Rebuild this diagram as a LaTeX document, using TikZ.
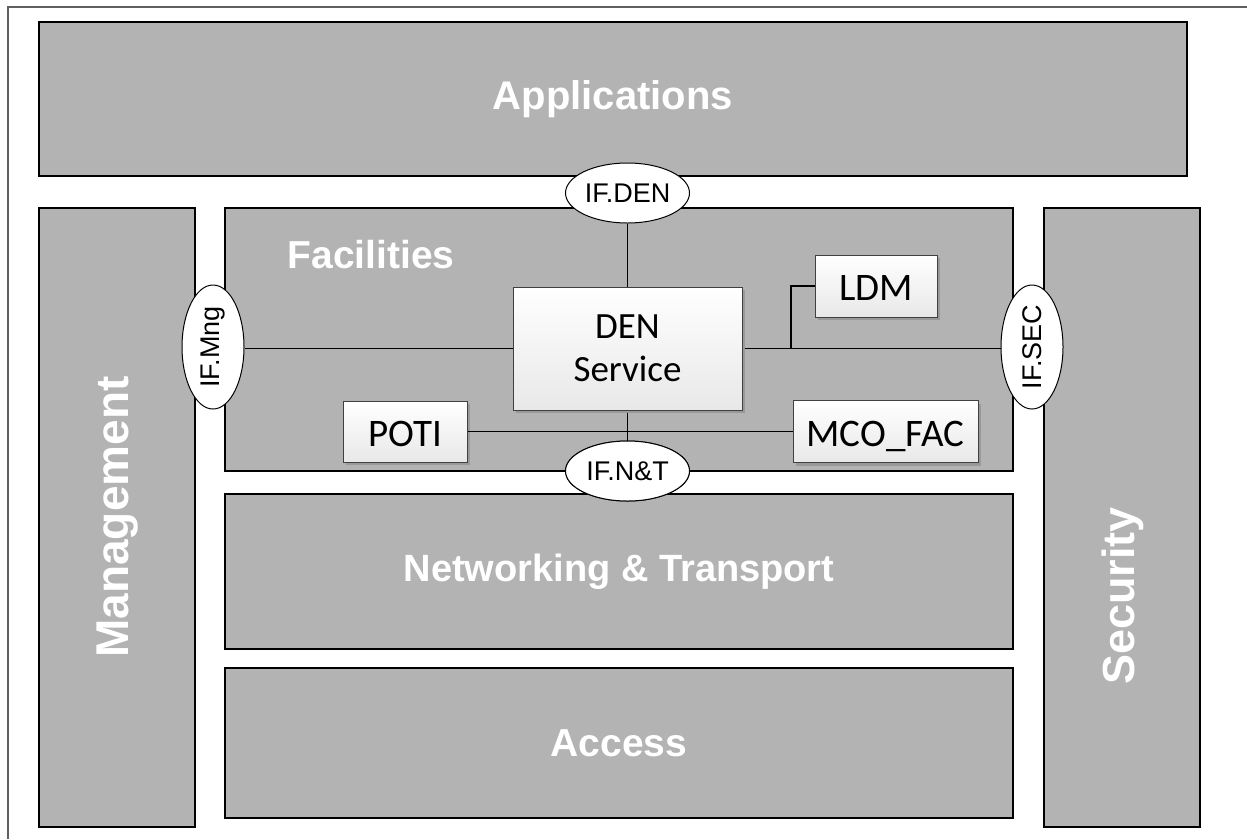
\documentclass[tikz,border=0pt]{standalone}
\usepackage{fontspec}
\setmainfont{Liberation Sans}
\newfontfamily\boxfont{Carlito}
\usetikzlibrary{shapes.geometric,shadows}
\definecolor{layergray}{HTML}{B3B3B3}
\definecolor{framegray}{HTML}{606060}
\begin{document}
\begin{tikzpicture}[x=1pt,y=-1pt,
  layer/.style={draw=black, line width=1.6pt, fill=layergray, inner sep=0pt, text=white,
    font=\fontsize{38}{44}\selectfont\bfseries},
  layerlabel/.style={text=white, font=\fontsize{38}{44}\selectfont\bfseries, inner sep=0pt},
  comp/.style={draw=black!75, line width=1pt, top color=white, bottom color=black!9,
    inner sep=0pt, font=\boxfont\fontsize{39}{44}\selectfont, align=center,
    drop shadow={shadow xshift=3pt, shadow yshift=-3pt, fill=black!40, opacity=1}},
  compone/.style={comp, text height=29pt, text depth=0pt},
  iface/.style={ellipse, draw=black, line width=1pt, fill=white, inner sep=0pt,
    font=\fontsize{27}{32}\selectfont},
  ifacelabel/.style={rotate=90, inner sep=0pt, font=\fontsize{27}{32}\selectfont},
  conn/.style={draw=black, line width=1.3pt}]
\useasboundingbox (0,0) rectangle (1247,839);
% frame
\coordinate (fbl) at (8,839);
\coordinate (ftl) at (8,7);
\coordinate (ftr) at (1247,7);
\draw[framegray, line width=1.5pt] (fbl) -- (ftl) -- (ftr);
% layers
\node[layer, minimum width=1148, minimum height=154, font=\fontsize{40}{46}\selectfont\bfseries] (app) at (613,99) {Applications};
\node[layer, minimum width=156, minimum height=619] (mgmt) at (117,517.5) {};
\node[layerlabel, rotate=90, font=\fontsize{46}{52}\selectfont\bfseries] (mgmtl) at (118,517) {Management};
\node[layer, minimum width=156, minimum height=619] (sec) at (1122,517.5) {};
\node[layerlabel, rotate=90, font=\fontsize{45}{52}\selectfont\bfseries] (secl) at (1123,596) {Security};
\node[layer, minimum width=788, minimum height=263] (fac) at (619,339.5) {};
\node[layerlabel, font=\fontsize{39}{44}\selectfont\bfseries] (facl) at (371,255) {Facilities};
\node[layer, minimum width=788, minimum height=155] (net) at (619,571.5) {Networking \& Transport};
\node[layer, minimum width=788, minimum height=150, font=\fontsize{39}{44}\selectfont\bfseries] (acc) at (619,743) {Access};
% interfaces (vertical)
\node[iface, minimum width=62, minimum height=124] (ifmng) at (213,347) {};
\node[ifacelabel] (ifmngl) at (ifmng) {IF.Mng};
\node[iface, minimum width=62, minimum height=124] (ifsec) at (1032,347) {};
\node[ifacelabel] (ifsecl) at (ifsec) {IF.SEC};
% components
\node[comp, minimum width=229, minimum height=123, font=\boxfont\fontsize{37}{42}\selectfont] (den) at (627.5,348.5) {DEN\\[1pt]Service};
\node[compone, minimum width=122, minimum height=62] (ldm) at (876,286) {LDM};
\node[compone, minimum width=124, minimum height=61] (poti) at (405,431.5) {POTI};
\node[compone, minimum width=185, minimum height=62] (mco) at (885.5,431.5) {MCO\_FAC};
\node[iface, minimum width=124, minimum height=60] (ifden) at (627.5,193) {IF.DEN};
\node[iface, minimum width=124, minimum height=60] (ifnt) at (627.5,471) {IF.N\&T};
% connectors
\coordinate (j) at (791,348.5);
\draw[conn] (ifden.south) -- (den.north);
\draw[conn] (den.south) -- (ifnt.north);
\draw[conn] (ifmng.east |- den.west) -- (den.west);
\draw[conn] (den.east) -- (ifsec.west |- den.east);
\draw[conn] (ldm.west) -| (j);
\draw[conn] (poti.east) -- (mco.west);
% redraw boxes over lines
\node[comp, minimum width=229, minimum height=123, font=\boxfont\fontsize{37}{42}\selectfont] at (den) {DEN\\[1pt]Service};
\node[iface, minimum width=124, minimum height=60] at (ifnt) {IF.N\&T};
\end{tikzpicture}
\end{document}
